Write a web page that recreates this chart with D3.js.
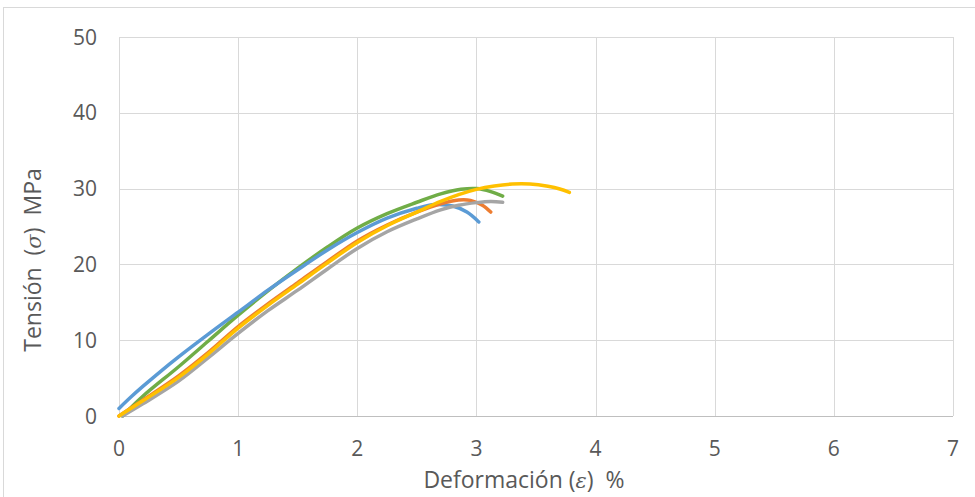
<!DOCTYPE html>
<html><head><meta charset="utf-8">
<script src="https://cdn.jsdelivr.net/npm/d3@7"></script>
<style>body{margin:0;background:#fff}svg{display:block}text{white-space:pre}</style>
</head><body>
<script>
const xTicks = [0,1,2,3,4,5,6,7];
const yTicks = [0,10,20,30,40,50];

const blueX  = [0, 0.1, 0.2, 0.35, 0.5, 0.75, 1.0, 1.25, 1.5, 1.75, 2.0, 2.25, 2.5, 2.65, 2.8, 2.92, 3.02];
const blueY  = [1.0, 2.5, 3.9, 5.9, 7.8, 10.8, 13.7, 16.6, 19.3, 21.9, 24.2, 26.1, 27.4, 27.9, 27.7, 26.9, 25.6];
const greenX = [0.03, 0.2, 0.5, 0.75, 1.0, 1.25, 1.5, 1.75, 2.0, 2.25, 2.5, 2.7, 2.87, 3.0, 3.12, 3.22];
const greenY = [0, 2.6, 6.5, 9.9, 13.3, 16.5, 19.5, 22.3, 24.8, 26.7, 28.2, 29.3, 29.9, 30.0, 29.6, 29.0];
const orangeX = [0, 0.2, 0.5, 0.75, 1.0, 1.25, 1.5, 1.75, 2.0, 2.25, 2.5, 2.7, 2.85, 2.95, 3.05, 3.12];
const orangeY = [0, 2.1, 5.3, 8.4, 11.8, 14.8, 17.6, 20.4, 23.1, 25.2, 26.9, 28.0, 28.5, 28.45, 27.8, 26.9];
const grayX  = [0.03, 0.2, 0.5, 0.75, 1.0, 1.25, 1.5, 1.75, 2.0, 2.25, 2.5, 2.7, 2.85, 3.0, 3.12, 3.22];
const grayY  = [0, 1.6, 4.6, 7.7, 10.9, 13.9, 16.6, 19.4, 22.1, 24.3, 26.0, 27.2, 27.8, 28.15, 28.3, 28.2];
const yellowX = [0, 0.2, 0.5, 0.75, 1.0, 1.25, 1.5, 1.75, 2.0, 2.25, 2.5, 2.7, 2.85, 3.0, 3.15, 3.3, 3.45, 3.6, 3.7, 3.78];
const yellowY = [0, 2.0, 5.1, 8.2, 11.6, 14.6, 17.4, 20.2, 22.9, 25.1, 26.9, 28.3, 29.2, 29.9, 30.35, 30.6, 30.6, 30.3, 29.95, 29.5];

const series = [
  {x: greenX, y: greenY, color: "#70AD47"},
  {x: blueX, y: blueY, color: "#5B9BD5"},
  {x: orangeX, y: orangeY, color: "#ED7D31"},
  {x: grayX, y: grayY, color: "#A5A5A5"},
  {x: yellowX, y: yellowY, color: "#FFC000"}
];

const W = 975, H = 497;
const svg = d3.select("body").append("svg").attr("width", W).attr("height", H);
svg.append("rect").attr("x", 3.5).attr("y", 7.5).attr("width", 980).attr("height", 500)
  .attr("fill", "#fff").attr("stroke", "#D9D9D9").attr("stroke-width", 1);

const x = d3.scaleLinear().domain([0,7]).range([119, 953]);
const y = d3.scaleLinear().domain([0,50]).range([416, 37]);

const font = "'Open Sans', 'Liberation Sans', Arial, sans-serif";
const textColor = "#595959";

// gridlines
svg.append("g").selectAll("line").data(xTicks).join("line")
  .attr("x1", d => Math.round(x(d)) + 0.5).attr("x2", d => Math.round(x(d)) + 0.5)
  .attr("y1", y(50)).attr("y2", y(0))
  .attr("stroke", "#D9D9D9").attr("stroke-width", 1);
svg.append("g").selectAll("line").data(yTicks).join("line")
  .attr("x1", x(0)).attr("x2", x(7))
  .attr("y1", d => Math.round(y(d)) + 0.5).attr("y2", d => Math.round(y(d)) + 0.5)
  .attr("stroke", d => d === 0 ? "#BFBFBF" : "#D9D9D9").attr("stroke-width", 1);

// tick labels
svg.append("g").selectAll("text").data(yTicks).join("text")
  .attr("x", 97).attr("y", d => y(d)).attr("dy", "0.36em")
  .attr("text-anchor", "end").attr("font-family", font).attr("font-size", 21)
  .attr("fill", textColor).text(d => d);
svg.append("g").selectAll("text").data(xTicks).join("text")
  .attr("x", d => x(d)).attr("y", 456)
  .attr("text-anchor", "middle").attr("font-family", font).attr("font-size", 21)
  .attr("fill", textColor).text(d => d);

// lines
const line = d3.line().x(d => x(d[0])).y(d => y(d[1])).curve(d3.curveCatmullRom.alpha(0.5));
svg.append("g").selectAll("path").data(series).join("path")
  .attr("d", s => line(s.x.map((v, i) => [v, s.y[i]])))
  .attr("fill", "none").attr("stroke", s => s.color).attr("stroke-width", 3.5)
  .attr("stroke-linecap", "round").attr("stroke-linejoin", "round");

// axis titles
const xt = svg.append("text").attr("x", 524).attr("y", 488).attr("text-anchor", "middle")
  .attr("font-family", font).attr("font-size", 23).attr("fill", textColor);
xt.append("tspan").text("Deformación (");
xt.append("tspan").attr("font-style", "italic").attr("font-family", "'DejaVu Serif', serif").attr("font-size", 21).text("ε");
xt.append("tspan").text(")  %");

const yt = svg.append("text").attr("transform", "translate(41,260) rotate(-90)").attr("text-anchor", "middle")
  .attr("font-family", font).attr("font-size", 23).attr("fill", textColor);
yt.append("tspan").text("Tensión  (");
yt.append("tspan").attr("font-style", "italic").attr("font-family", "'DejaVu Serif', serif").attr("font-size", 21).text("σ");
yt.append("tspan").text(")  MPa");
</script>
</body></html>
